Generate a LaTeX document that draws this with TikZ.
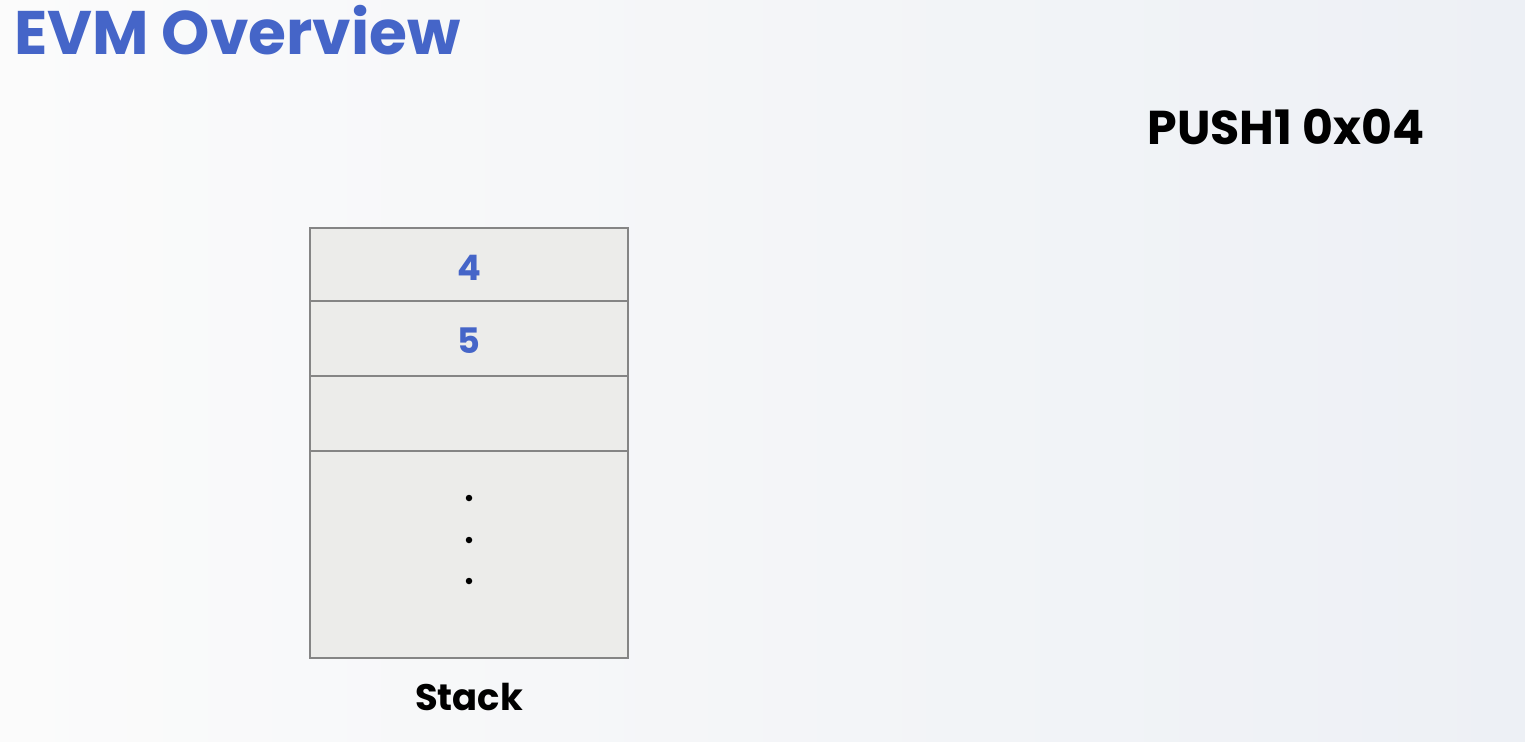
\documentclass[tikz,border=0pt]{standalone}
\usepackage{fontspec}
\setmainfont{Poppins}
\usepackage{xcolor}
\usepackage{tikz}
\usetikzlibrary{positioning}
\definecolor{evmblue}{HTML}{4565C8}
\definecolor{cellfill}{HTML}{ECECEA}
\definecolor{cellline}{HTML}{858585}
\definecolor{bgleft}{HTML}{FBFBFB}
\definecolor{bgright}{HTML}{EDF0F5}
\tikzset{
	cell/.style={draw=cellline,line width=1.2pt,fill=cellfill,minimum width=6.36cm,inner sep=0pt},
	cellval/.style={font=\fontsize{20}{24}\selectfont\bfseries,text=evmblue},
	stackdot/.style={circle,fill=black,inner sep=0pt,minimum size=1.3mm}
}
\begin{document}
\begin{tikzpicture}[x=0.02cm,y=-0.02cm]
		% background
		\shade[left color=bgleft,right color=bgright] (0,0) rectangle (1525,741);
		\useasboundingbox (0,0) rectangle (1525,741);
		\node[anchor=west,text=evmblue,font=\fontsize{35}{42}\selectfont\bfseries] (title) at (8,30) {EVM Overview};
		\node[font=\fontsize{27}{32}\selectfont\bfseries] (op) at (1286,127) {PUSH1 0x04};
		% stack cells
		\node[cell,minimum height=1.46cm] (c1) at (469,264.5) {};
		\node[cell,minimum height=1.5cm] (c2) at (469,338.5) {};
		\node[cell,minimum height=1.5cm] (c3) at (469,413.5) {};
		\node[cell,minimum height=4.14cm] (c4) at (469,554.5) {};
		\node[cellval] (v1) at (469,268) {4};
		\node[cellval] (v2) at (469,341) {5};
		\node[stackdot] (d1) at (469,498) {};
		\node[stackdot] (d2) at (469,540) {};
		\node[stackdot] (d3) at (469,581) {};
		\node[font=\fontsize{21}{25}\selectfont\bfseries] (stack) at (469,697) {Stack};
	\end{tikzpicture}
\end{document}
